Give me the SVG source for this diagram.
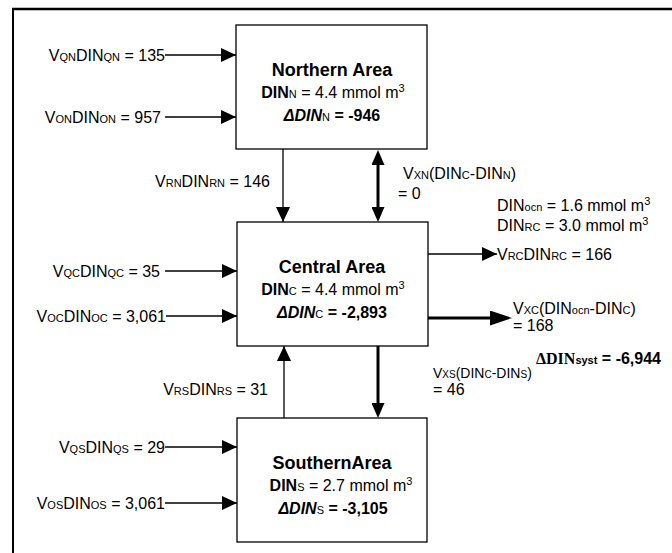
<svg xmlns="http://www.w3.org/2000/svg" width="672" height="553" viewBox="0 0 672 553">
<style>
text{font-family:"Liberation Sans",Arial,sans-serif;font-size:16px;fill:#000}
.s{font-size:11px}
.sup{font-size:11px}
.b{font-weight:bold}
.i{font-style:italic}
.h{font-size:18px;font-weight:bold}
.sm{font-size:14px}
.sm .s{font-size:10px}
.box{fill:#fff;stroke:#000;stroke-width:1.3}
.thin{stroke:#000;stroke-width:1.3;fill:none}
.thick{stroke:#000;stroke-width:3;fill:none}
.serif{font-family:"Liberation Serif","Times New Roman",serif}
</style>
<defs>
<marker id="ht" markerUnits="userSpaceOnUse" markerWidth="15" markerHeight="14" refX="15" refY="7" orient="auto"><path d="M0,0 L15,7 L0,14 z" fill="#000"/></marker>
<marker id="hv" markerUnits="userSpaceOnUse" markerWidth="15" markerHeight="13" refX="9" refY="6.5" orient="auto-start-reverse"><path d="M0,0 L15,6.5 L0,13 z" fill="#000"/></marker>
<marker id="hx" markerUnits="userSpaceOnUse" markerWidth="22" markerHeight="15" refX="16" refY="7.5" orient="auto"><path d="M0,0 L22,7.5 L0,15 z" fill="#000"/></marker>
</defs>
<rect width="672" height="553" fill="#fff"/>
<g id="frame">
<line x1="12" y1="9" x2="672" y2="9" stroke="#000" stroke-width="2.5"/>
<line x1="13" y1="8" x2="13" y2="553" stroke="#000" stroke-width="2"/>
</g>
<g id="connectors">
<line class="thin" x1="165" y1="55" x2="236" y2="55" marker-end="url(#ht)"/>
<line class="thin" x1="165" y1="117" x2="236" y2="117" marker-end="url(#ht)"/>
<line class="thin" x1="283" y1="149" x2="283" y2="222" marker-end="url(#ht)"/>
<line class="thick" x1="378" y1="156" x2="378" y2="216" marker-start="url(#hv)" marker-end="url(#hv)"/>
<line class="thin" x1="165" y1="271" x2="237" y2="271" marker-end="url(#ht)"/>
<line class="thin" x1="166" y1="316" x2="237" y2="316" marker-end="url(#ht)"/>
<line class="thin" x1="428" y1="254" x2="497" y2="254" marker-end="url(#ht)"/>
<line class="thick" x1="428" y1="318" x2="506" y2="318" marker-end="url(#hx)"/>
<line class="thick" x1="378" y1="346" x2="378" y2="412" marker-end="url(#hv)"/>
<line class="thin" x1="284" y1="418" x2="284" y2="346" marker-end="url(#ht)"/>
<line class="thin" x1="165" y1="447" x2="237" y2="447" marker-end="url(#ht)"/>
<line class="thin" x1="165" y1="503" x2="237" y2="503" marker-end="url(#ht)"/>
</g>
<g id="northern">
<rect class="box" x="236" y="25" width="191" height="124"/>
<text x="332" y="76" text-anchor="middle" class="h">Northern Area</text>
<text x="333" y="98" text-anchor="middle"><tspan class="b">DIN</tspan><tspan class="s">N</tspan> = 4.4 mmol m<tspan class="sup" dy="-6">3</tspan></text>
<text x="332" y="121" text-anchor="middle" class="b"><tspan class="i">ΔDIN</tspan><tspan class="s" font-weight="normal">N</tspan> = -946</text>
</g>
<g id="central">
<rect class="box" x="237" y="222" width="191" height="124"/>
<text x="332" y="273" text-anchor="middle" class="h">Central Area</text>
<text x="333" y="295" text-anchor="middle"><tspan class="b">DIN</tspan><tspan class="s">C</tspan> = 4.4 mmol m<tspan class="sup" dy="-6">3</tspan></text>
<text x="332" y="318" text-anchor="middle" class="b"><tspan class="i">ΔDIN</tspan><tspan class="s" font-weight="normal">C</tspan> = -2,893</text>
</g>
<g id="southern">
<rect class="box" x="237" y="418" width="190" height="124"/>
<text x="332" y="469" text-anchor="middle" class="h">SouthernArea</text>
<text x="341" y="491" text-anchor="middle"><tspan class="b">DIN</tspan><tspan class="s">S</tspan> = 2.7 mmol m<tspan class="sup" dy="-6">3</tspan></text>
<text x="333" y="514" text-anchor="middle" class="b"><tspan class="i">ΔDIN</tspan><tspan class="s" font-weight="normal">S</tspan> = -3,105</text>
</g>
<g id="labels">
<text x="165" y="61" text-anchor="end">V<tspan class="s">QN</tspan>DIN<tspan class="s">QN</tspan> = 135</text>
<text x="161" y="123" text-anchor="end">V<tspan class="s">ON</tspan>DIN<tspan class="s">ON</tspan> = 957</text>
<text x="270" y="187" text-anchor="end">V<tspan class="s">RN</tspan>DIN<tspan class="s">RN</tspan> = 146</text>
<text x="403" y="179">V<tspan class="s">XN</tspan>(DIN<tspan class="s">C</tspan>-DIN<tspan class="s">N</tspan>)</text>
<text x="398" y="199">= 0</text>
<text x="497" y="211">DIN<tspan class="s">ocn</tspan> = 1.6 mmol m<tspan class="sup" dy="-6">3</tspan></text>
<text x="497" y="231">DIN<tspan class="s">RC</tspan> = 3.0  mmol m<tspan class="sup" dy="-6">3</tspan></text>
<text x="497" y="260">V<tspan class="s">RC</tspan>DIN<tspan class="s">RC</tspan> = 166</text>
<text x="160" y="277" text-anchor="end">V<tspan class="s">QC</tspan>DIN<tspan class="s">QC</tspan> = 35</text>
<text x="166" y="322" text-anchor="end">V<tspan class="s">OC</tspan>DIN<tspan class="s">OC</tspan> = 3,061</text>
<text x="513" y="314">V<tspan class="s">XC</tspan>(DIN<tspan class="s">ocn</tspan>-DIN<tspan class="s">C</tspan>)</text>
<text x="513" y="331">= 168</text>
<text x="536" y="364" class="b"><tspan class="serif">ΔDIN</tspan><tspan class="s">syst</tspan> = -6,944</text>
<text x="433" y="378" class="sm">V<tspan class="s">XS</tspan>(DIN<tspan class="s">C</tspan>-DIN<tspan class="s">S</tspan>)</text>
<text x="433" y="395">= 46</text>
<text x="268" y="395" text-anchor="end">V<tspan class="s">RS</tspan>DIN<tspan class="s">RS</tspan> = 31</text>
<text x="165" y="453" text-anchor="end">V<tspan class="s">QS</tspan>DIN<tspan class="s">QS</tspan> = 29</text>
<text x="165" y="509" text-anchor="end">V<tspan class="s">OS</tspan>DIN<tspan class="s">OS</tspan> = 3,061</text>
</g>
</svg>
